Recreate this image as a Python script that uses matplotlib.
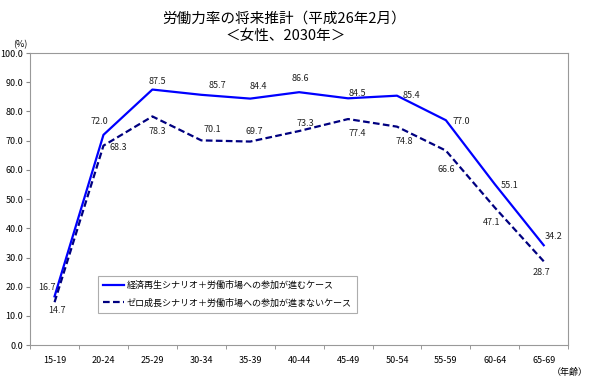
import numpy as np
import matplotlib.pyplot as plt

plt.rcParams['font.family'] = ['Noto Sans CJK JP', 'DejaVu Sans']

ages = ["15-19", "20-24", "25-29", "30-34", "35-39", "40-44",
        "45-49", "50-54", "55-59", "60-64", "65-69"]
growth = [16.7, 72.0, 87.5, 85.7, 84.4, 86.6, 84.5, 85.4, 77.0, 55.1, 34.2]
zero = [14.7, 68.3, 78.3, 70.1, 69.7, 73.3, 77.4, 74.8, 66.6, 47.1, 28.7]

label_growth = "経済再生シナリオ＋労働市場への参加が進むケース"
label_zero = "ゼロ成長シナリオ＋労働市場への参加が進まないケース"

# data label offsets in pixels (dx, dy), placed by hand like the original
off_growth = [(-8, 9), (-4, 13), (5, 8), (16, 9), (8, 12), (1, 14),
              (9, 5), (14, 0), (15, -1), (15, -1), (10, 9)]
off_zero = [(2, -8), (15, -2), (5, -15), (11, 11), (4, 10), (6, 8),
            (9, -14), (7, -15), (0, -19), (-3, -15), (-2, -11)]

fig = plt.figure(figsize=(5.9, 3.9), dpi=100)
ax = fig.add_axes([0.051, 0.115, 0.912, 0.749])
x = np.arange(len(ages))

ax.plot(x, growth, color='#0000FF', lw=1.6, label=label_growth)
ax.plot(x, zero, color='#000080', lw=1.6, ls=(0, (3, 1.5)), label=label_zero)

for i in x:
    for vals, offs in ((growth, off_growth), (zero, off_zero)):
        ax.annotate(f"{vals[i]:.1f}", (i, vals[i]), xytext=offs[i],
                    textcoords='offset pixels', ha='center', va='center',
                    fontsize=6.5, color='#222222')

ax.set_xlim(-0.5, len(ages) - 0.5)
ax.set_ylim(0, 100)
ax.set_yticks(np.arange(0, 101, 10))
ax.set_yticklabels([f"{v:.1f}" for v in np.arange(0, 101, 10)], fontsize=6.5)
ax.set_xticks(x)
ax.set_xticklabels(ages, fontsize=6.5)
ax.set_xticks(np.arange(-0.5, len(ages), 1), minor=True)
ax.tick_params(axis='x', which='major', length=0, pad=8)
ax.tick_params(axis='x', which='minor', length=3, color='#888888')
ax.tick_params(axis='y', length=3, color='#888888', pad=2)
for s in ax.spines.values():
    s.set_color('#999999')
    s.set_linewidth(0.8)

leg = ax.legend(loc='lower left', bbox_to_anchor=(0.126, 0.11), fontsize=6.5,
                frameon=True, fancybox=False, handlelength=2.3, handletextpad=0.3,
                labelspacing=0.9, borderpad=0.6, borderaxespad=0)
leg.get_frame().set_edgecolor('#999999')
leg.get_frame().set_linewidth(0.8)

fig.text(0.482, 0.953, "労働力率の将来推計（平成26年2月）", ha='center', va='center', fontsize=10.5)
fig.text(0.484, 0.908, "＜女性、2030年＞", ha='center', va='center', fontsize=10.5)
fig.text(0.035, 0.885, "(%)", ha='center', va='center', fontsize=6.5)
fig.text(0.997, 0.045, "（年齢）", ha='right', va='center', fontsize=6.5)

fig.savefig("out.png", dpi=100)
